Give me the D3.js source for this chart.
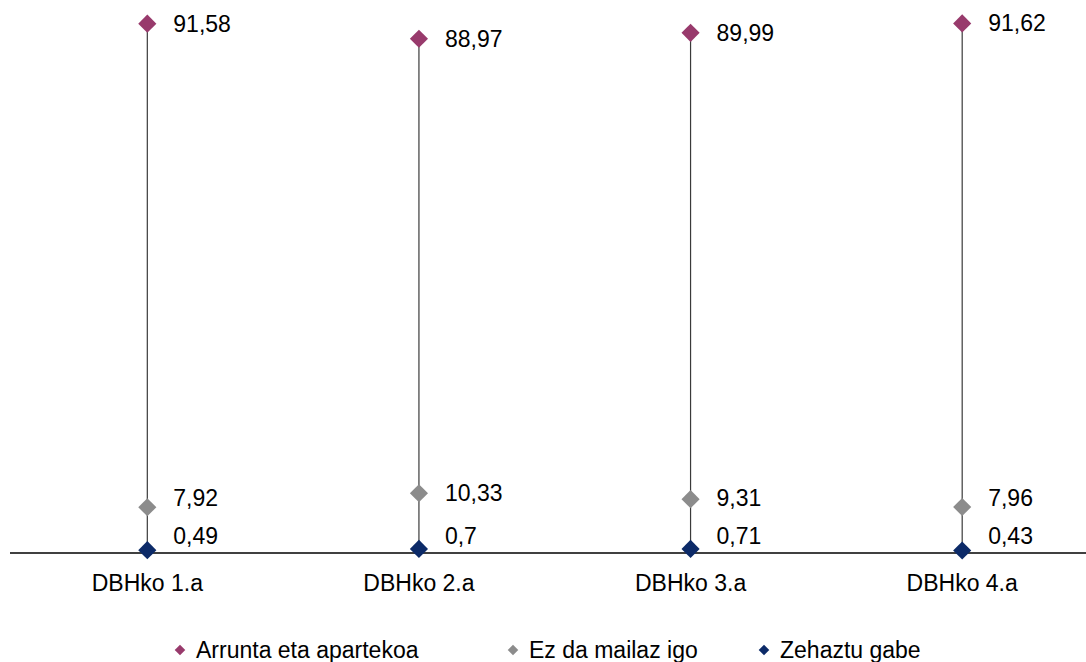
<!DOCTYPE html>
<html><head><meta charset="utf-8">
<script src="https://cdn.jsdelivr.net/npm/d3@7"></script>
<style>html,body{margin:0;padding:0;background:#fff;}svg{display:block;font-family:"Liberation Sans",Arial,sans-serif;}</style>
</head><body>
<svg id="c" width="1086" height="662"></svg>
<script>
const categories = ["DBHko 1.a", "DBHko 2.a", "DBHko 3.a", "DBHko 4.a"];
const seriesNames = ["Arrunta eta apartekoa", "Ez da mailaz igo", "Zehaztu gabe"];
const arrunta = [91.58, 88.97, 89.99, 91.62];
const ezIgo = [7.92, 10.33, 9.31, 7.96];
const zehaztuGabe = [0.49, 0.7, 0.71, 0.43];
const labelsArrunta = ["91,58", "88,97", "89,99", "91,62"];
const labelsEzIgo = ["7,92", "10,33", "9,31", "7,96"];
const labelsZehaztu = ["0,49", "0,7", "0,71", "0,43"];
const colors = ["#983a6c", "#8c8c8c", "#0c2a68"];

const svg = d3.select("#c");
const axisY = 553;
const x = d3.scalePoint().domain(categories).range([11.5, 1098]).padding(0.5);
const y = d3.scaleLinear().domain([0, 100]).range([axisY, axisY - 578]);

const series = [
  {name: seriesNames[0], values: arrunta, labels: labelsArrunta, color: colors[0]},
  {name: seriesNames[1], values: ezIgo, labels: labelsEzIgo, color: colors[1]},
  {name: seriesNames[2], values: zehaztuGabe, labels: labelsZehaztu, color: colors[2]}
];

// high-low lines
categories.forEach((c, i) => {
  const vals = series.map(s => s.values[i]);
  svg.append("line")
    .attr("x1", x(c)).attr("x2", x(c))
    .attr("y1", y(d3.max(vals))).attr("y2", y(d3.min(vals)))
    .attr("stroke", "#3a3a3a").attr("stroke-width", 1.2);
});

// axis line
svg.append("line").attr("x1", 10).attr("x2", 1086).attr("y1", axisY).attr("y2", axisY)
  .attr("stroke", "#000").attr("stroke-width", 1.5);

// category labels
svg.selectAll("text.cat").data(categories).enter().append("text")
  .attr("class", "cat").attr("x", d => x(d)).attr("y", 591)
  .attr("text-anchor", "middle").attr("font-size", 23).attr("fill", "#000")
  .text(d => d);

const bigDiamond = d3.symbol().type(d3.symbolSquare).size(165)();
const smallDiamond = d3.symbol().type(d3.symbolSquare).size(56)();

series.forEach(s => {
  categories.forEach((c, i) => {
    svg.append("path").attr("d", bigDiamond)
      .attr("transform", `translate(${x(c)},${y(s.values[i])}) rotate(45)`)
      .attr("fill", s.color);
  });
});

// data labels
categories.forEach((c, i) => {
  const bottomLabelY = axisY - 17;
  const midLabelY = Math.min(y(series[1].values[i]), bottomLabelY - 38);
  const topLabelY = y(series[0].values[i]);
  [topLabelY, midLabelY, bottomLabelY].forEach((ly, k) => {
    svg.append("text").attr("x", x(c) + 26).attr("y", ly)
      .attr("dy", "0.35em").attr("font-size", 23).attr("fill", "#000")
      .text(series[k].labels[i]);
  });
});

// legend
const legendX = [180, 513, 764];
series.forEach((s, k) => {
  const g = svg.append("g").attr("transform", `translate(${legendX[k]},650)`);
  g.append("path").attr("d", smallDiamond).attr("transform", "rotate(45)").attr("fill", s.color);
  g.append("text").attr("x", 16).attr("dy", "0.35em").attr("font-size", 23).attr("fill", "#000").text(s.name);
});
</script>
</body></html>
